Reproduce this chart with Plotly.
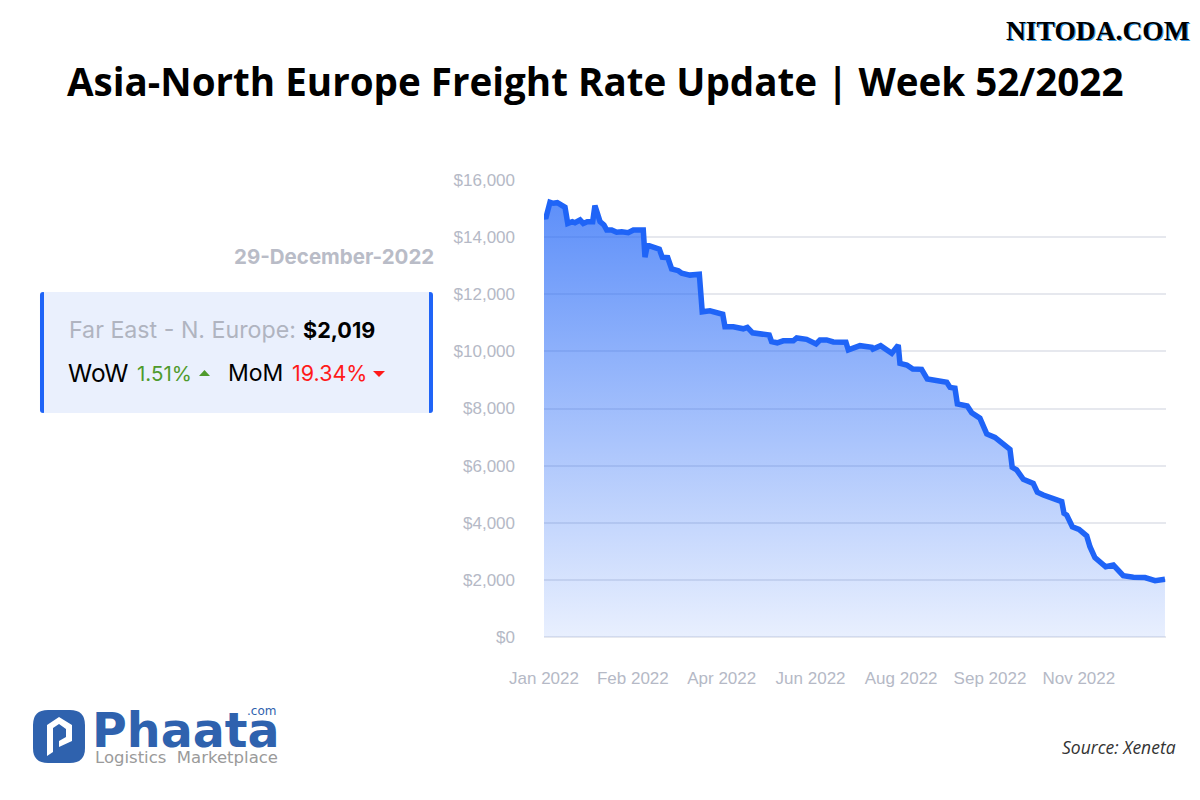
import plotly.graph_objects as go

# days since the start of the axis
days = [0, 1.0, 3.5, 5.4, 7.8, 12.3, 13.9, 16.6, 18.1, 21.1, 23, 25.3, 28.5, 29.8, 32.8, 35.1, 36.7, 39.6,
        42.5, 45.5, 49.3, 52.3, 58.1, 59.1, 60.5, 67.5, 69.2, 72.4, 74.7, 78.6, 80.6, 85.4, 90.9, 92.6,
        97.1, 104.6, 105.9, 110.8, 116.6, 119, 122.1, 131.8, 133.2, 136.5, 140, 145.9, 147.9, 153.7,
        159.2, 161.5, 165.4, 169.3, 176.7, 178.1, 184.9, 191.8, 192.5, 197, 203.5, 207.3, 208.3, 212.3,
        215.8, 221, 224.3, 235.7, 237.6, 240.5, 241.9, 247.7, 250.3, 255.1, 259.1, 263.9, 272.7, 274,
        276.6, 280.5, 286.3, 288.7, 292.2, 301, 303, 304.3, 305.9, 309.2, 313.1, 317.6, 319.5, 322.4,
        328.7, 333.2, 339, 344.9, 351.7, 357.6, 363.4]
rates = [14770, 14650, 15220, 15185, 15205, 15045, 14480, 14540, 14505, 14600, 14480, 14540, 14540, 15100,
         14540, 14425, 14250, 14250, 14170, 14190, 14155, 14250, 14250, 13300, 13720, 13580, 13295, 13280,
         12885, 12825, 12735, 12670, 12700, 11385, 11420, 11300, 10860, 10860, 10790, 10840, 10650, 10570,
         10340, 10300, 10370, 10370, 10470, 10420, 10260, 10400, 10400, 10330, 10320, 10050, 10200, 10140,
         10080, 10200, 9930, 10220, 9580, 9520, 9380, 9370, 9030, 8920, 8740, 8710, 8160, 8090, 7850, 7660,
         7110, 6990, 6570, 5940, 5850, 5520, 5380, 5070, 4970, 4820, 4740, 4330, 4270, 3860, 3770, 3540,
         3160, 2780, 2460, 2520, 2150, 2090, 2080, 1970, 2019]

x_ticks = [0, 52, 104, 156, 209, 261, 313]
x_labels = ["Jan 2022", "Feb 2022", "Apr 2022", "Jun 2022", "Aug 2022", "Sep 2022", "Nov 2022"]
y_ticks = [0, 2000, 4000, 6000, 8000, 10000, 12000, 14000, 16000]

W, H = 1200, 800
BLUE = "#1f64f7"
LOGO = "#2f62ae"


def px(x):
    return x / W


def py(y):
    return 1 - y / H


def label(x, y, text, size, color, font="Inter", anchor="left", weight=None, shadow=None):
    return dict(xref="paper", yref="paper", x=px(x), y=py(y), text=text, showarrow=False,
                xanchor=anchor, yanchor="middle", align=anchor,
                font=dict(family=font, size=size, color=color, weight=weight, shadow=shadow))


def rect(x0, y0, x1, y1, color):
    return dict(type="rect", xref="paper", yref="paper", x0=px(x0), x1=px(x1), y0=py(y0), y1=py(y1),
                fillcolor=color, line_width=0, layer="below")


def poly(points, color):
    d = "M" + " L".join(f"{px(a):.5f},{py(b):.5f}" for a, b in points) + " Z"
    return dict(type="path", xref="paper", yref="paper", path=d, fillcolor=color, line_width=0)


def rounded(x0, y0, x1, y1, r, color):
    def p(a, b):
        return f"{px(a):.5f},{py(b):.5f}"
    d = (f"M{p(x0 + r, y0)} L{p(x1 - r, y0)} Q{p(x1, y0)} {p(x1, y0 + r)} "
         f"L{p(x1, y1 - r)} Q{p(x1, y1)} {p(x1 - r, y1)} "
         f"L{p(x0 + r, y1)} Q{p(x0, y1)} {p(x0, y1 - r)} "
         f"L{p(x0, y0 + r)} Q{p(x0, y0)} {p(x0 + r, y0)} Z")
    return dict(type="path", xref="paper", yref="paper", path=d, fillcolor=color, line_width=0, layer="below")


fig = go.Figure()

fig.add_trace(go.Scatter(
    x=days,
    y=rates,
    mode="lines",
    line=dict(color=BLUE, width=5.5, shape="linear"),
    fill="tozeroy",
    fillgradient=dict(type="vertical",
                      colorscale=[[0, "rgba(31,100,247,0.10)"], [1, "rgba(31,100,247,0.72)"]]),
    showlegend=False,
))

shapes = [
    rounded(40, 292, 46, 413, 3, BLUE),
    rounded(427, 292, 433, 413, 3, BLUE),
    rect(44, 292, 429, 413, "#eaf0fd"),
    poly([(199, 376), (210, 376), (204.5, 370)], "#4f9a2c"),
    poly([(373, 371), (385, 371), (379, 377)], "#ff1a1a"),
    # logo badge
    rounded(33, 710, 85, 763, 15, LOGO),
    poly([(47, 725), (59, 717), (72, 725), (72, 741), (59, 747), (59, 741), (66, 737), (66, 729), (59, 724),
          (53, 728), (53, 752), (47, 756)], "white"),
]

annotations = [
    label(595, 81, "Asia-North Europe Freight Rate Update | Week 52/2022", 38.6, "black", "Open Sans", "center", 700),
    label(1098, 31, "NITODA.COM", 27.5, "black", "Liberation Serif", "center", 700, "1px 1px 0 #3d9be0"),
    label(436, 256, "29-December-2022", 20.5, "#b9bcc7", "Inter", "right", 700),
    label(67, 330, "Far East - N. Europe:", 23.2, "#b0b4c0"),
    label(301, 330, "$2,019", 21.6, "black", "Inter", "left", 700),
    label(66, 373, "WoW", 24.5, "black"),
    label(135, 373, "1.51%", 20.5, "#4f9a2c"),
    label(226, 373, "MoM", 23, "black"),
    label(290, 373, "19.34%", 21.5, "#ff1a1a"),
    label(1178, 747, "<i>Source: Xeneta</i>", 17.5, "#333333", "Open Sans", "right"),
    label(90, 730, "Phaata", 47.5, LOGO, "DejaVu Sans", "left", 700),
    label(278, 711, ".com", 12, LOGO, "DejaVu Sans", "right"),
    label(93, 757, "Logistics  Marketplace", 16.5, "#9a9a9a", "DejaVu Sans"),
]

fig.update_layout(
    width=W,
    height=H,
    margin=dict(l=0, r=0, t=0, b=0, autoexpand=False),
    paper_bgcolor="white",
    plot_bgcolor="white",
    shapes=shapes,
    annotations=annotations,
    xaxis=dict(
        domain=[px(544), px(1166)],
        range=[0, 364],
        tickmode="array",
        tickvals=x_ticks,
        ticktext=x_labels,
        showgrid=False,
        zeroline=False,
        showline=False,
        ticks="",
        ticklabelstandoff=29,
        tickfont=dict(family="Liberation Sans", size=17, color="#b5b9c6"),
    ),
    yaxis=dict(
        domain=[py(637), py(180)],
        range=[0, 16000],
        tickmode="array",
        tickvals=y_ticks,
        tickformat="$,",
        showgrid=True,
        gridcolor="#e6e8ee",
        gridwidth=2,
        zeroline=True,
        zerolinecolor="#e6e8ee",
        zerolinewidth=2,
        showline=False,
        ticks="",
        ticklabelstandoff=28,
        tickfont=dict(family="Liberation Sans", size=17, color="#b5b9c6"),
    ),
)

fig.write_html("out.html", config={"displayModeBar": False}, post_script="document.body.style.margin='0';")
